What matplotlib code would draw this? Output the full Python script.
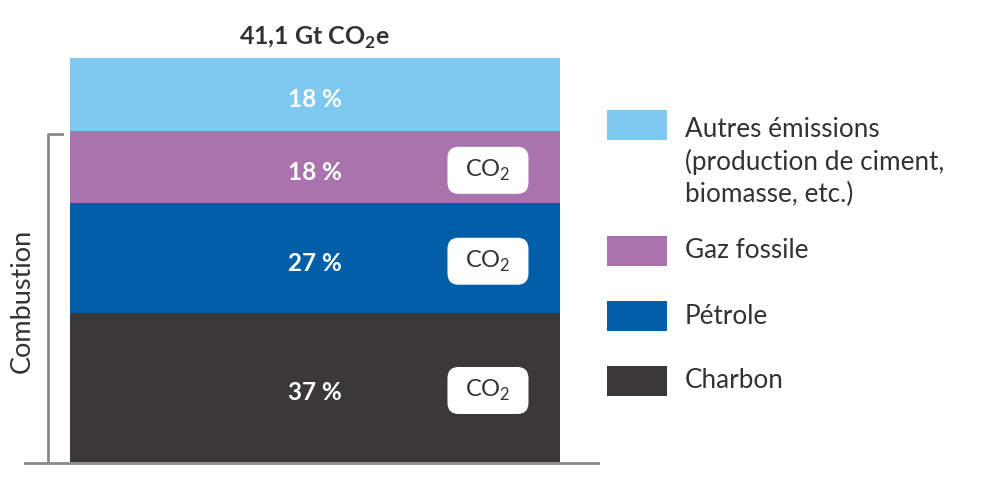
import matplotlib
matplotlib.use("Agg")
import matplotlib.pyplot as plt
from matplotlib.patches import FancyBboxPatch, Rectangle
from matplotlib.lines import Line2D

plt.rcParams['font.family'] = ['Lato', 'DejaVu Sans']

# data
categories = ['Charbon', 'Pétrole', 'Gaz fossile', 'Autres émissions']
shares = [37, 27, 18, 18]
colors = ['#3a3938', '#005fa6', '#a974ae', '#7dc9ef']
co2_only = [True, True, True, False]
legend_labels = ['Autres émissions\n(production de ciment,\nbiomasse, etc.)',
                 'Gaz fossile', 'Pétrole', 'Charbon']
total_label = '41,1 Gt CO$_\\mathregular{2}$e'

TXT = '#333333'
W, H = 995, 480
DPI = 100
fig = plt.figure(figsize=(W / DPI, H / DPI), dpi=DPI)

def fx(px):
    return px / W

def fy(py):
    return 1 - py / H

ax = fig.add_axes([fx(70), fy(462), fx(560) - fx(70), fy(58) - fy(462)])
ax.set_xlim(-0.5, 0.5)
ax.set_ylim(0, sum(shares))
ax.axis('off')

# CO2 tag size in inches
tag_w, tag_h, tag_r = 0.81, 0.47, 0.11
tag_x = 0.353

bottom = 0
for cat, v, c, co2 in zip(categories, shares, colors, co2_only):
    ax.bar(0, v, width=1, bottom=bottom, color=c, edgecolor='none')
    # labels sit a little under the middle of each block
    mid = bottom + v / 2 - 0.8
    ax.text(0, mid, f'{v} %', ha='center', va='center_baseline', color='white',
            fontsize=17.5, fontweight='bold')
    if co2:
        cx, cy = ax.transData.transform((tag_x, mid)) / DPI
        box = FancyBboxPatch((cx - tag_w / 2, cy - tag_h / 2), tag_w, tag_h,
                             boxstyle=f'round,pad=0,rounding_size={tag_r}',
                             transform=fig.dpi_scale_trans, facecolor='white',
                             edgecolor='none', clip_on=False, zorder=3)
        ax.add_patch(box)
        ax.text(tag_x, mid, 'CO$_\\mathregular{2}$', ha='center', va='center',
                color=TXT, fontsize=17, zorder=4)
    bottom += v

ax.text(0.5, 1.05, total_label, transform=ax.transAxes, ha='center',
        va='center', color=TXT, fontsize=18, fontweight='bold')

# baseline and combustion bracket
fig.add_artist(Line2D([fx(25), fx(598)], [fy(463), fy(463)], color='#8a8a8a', lw=2))
fig.add_artist(Line2D([fx(62), fx(48), fx(48)], [fy(134), fy(134), fy(462)],
                      color='#8a8a8a', lw=2))
fig.text(fx(22), fy(301), 'Combustion', rotation=90, ha='center', va='center',
         color=TXT, fontsize=19.5)

# legend
leg_y = [125, 251, 316, 381]
leg_t = [162, 251, 316, 381]
leg_c = colors[::-1]
for y, ty, lab, c in zip(leg_y, leg_t, legend_labels, leg_c):
    fig.add_artist(Rectangle((fx(607), fy(y + 15)), fx(60), fy(0) - fy(30),
                             facecolor=c, edgecolor='none'))
    fig.text(fx(685), fy(ty), lab, ha='left', va='center',
             color=TXT, fontsize=18.8, linespacing=1.35)

fig.savefig('out.png', dpi=DPI)
